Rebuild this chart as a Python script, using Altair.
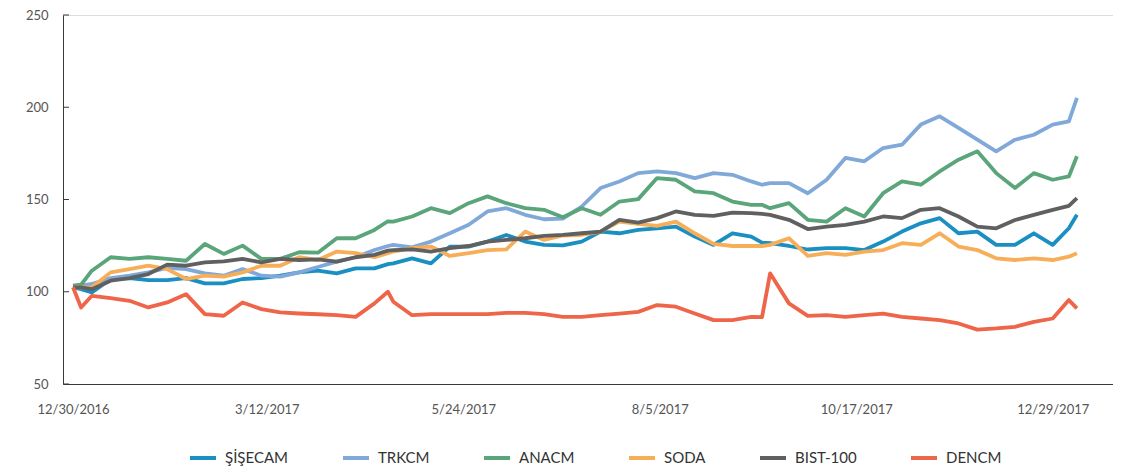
import altair as alt
import pandas as pd

dates = [
    "2016-12-30", "2017-01-02", "2017-01-06", "2017-01-13", "2017-01-20", "2017-01-27",
    "2017-02-03", "2017-02-10", "2017-02-17", "2017-02-24", "2017-03-03", "2017-03-10",
    "2017-03-17", "2017-03-24", "2017-03-31", "2017-04-07", "2017-04-14", "2017-04-21",
    "2017-04-26", "2017-04-28", "2017-05-05", "2017-05-12", "2017-05-19", "2017-05-26",
    "2017-06-02", "2017-06-09", "2017-06-16", "2017-06-23", "2017-06-30", "2017-07-07",
    "2017-07-14", "2017-07-21", "2017-07-28", "2017-08-04", "2017-08-11", "2017-08-18",
    "2017-08-25", "2017-09-01", "2017-09-08", "2017-09-12", "2017-09-15", "2017-09-22",
    "2017-09-29", "2017-10-06", "2017-10-13", "2017-10-20", "2017-10-27", "2017-11-03",
    "2017-11-10", "2017-11-17", "2017-11-24", "2017-12-01", "2017-12-08", "2017-12-15",
    "2017-12-22", "2017-12-29", "2018-01-04", "2018-01-07",
]

sisecam = [
    102.4, 101.4, 99.6, 106.9, 107.4, 106.3, 106.3, 107.4, 104.5, 104.5, 106.9, 107.4,
    108.7, 110.5, 111.4, 110.0, 112.7, 112.7, 115.0, 115.4, 118.1, 115.4, 124.5, 124.5,
    127.2, 130.8, 127.2, 125.4, 125.1, 127.2, 132.6, 131.7, 133.5, 134.4, 135.3, 129.9,
    125.4, 131.7, 129.9, 126.6, 126.3, 124.8, 122.9, 123.6, 123.6, 122.6, 127.2, 132.6,
    137.1, 139.9, 131.7, 132.6, 125.4, 125.4, 131.7, 125.4, 134.4, 141.7,
]
trkcm = [
    102.7, 103.3, 104.2, 107.4, 108.7, 110.5, 112.9, 112.3, 110.0, 108.7, 112.3, 108.7,
    108.2, 110.5, 113.4, 116.3, 118.7, 122.6, 124.8, 125.4, 124.1, 127.2, 131.7, 136.3,
    143.5, 145.3, 141.7, 139.3, 139.6, 146.2, 156.2, 159.8, 164.3, 165.2, 164.3, 161.6,
    164.3, 163.4, 159.8, 158.0, 158.9, 158.9, 153.4, 160.7, 172.5, 170.7, 177.9, 179.7,
    190.6, 195.1, 188.8, 182.4, 176.1, 182.4, 185.1, 190.6, 192.4, 205.1,
]
anacm = [
    103.3, 103.8, 111.4, 118.7, 117.8, 118.7, 117.8, 116.8, 125.9, 120.5, 125.0, 117.8,
    117.8, 121.4, 121.2, 129.0, 129.0, 133.5, 138.2, 138.0, 140.8, 145.3, 142.6, 148.0,
    151.7, 148.0, 145.3, 144.4, 140.4, 145.3, 141.7, 148.9, 150.2, 161.6, 160.7, 154.4,
    153.4, 148.9, 147.1, 147.1, 145.3, 148.0, 139.0, 138.0, 145.3, 140.8, 153.4, 159.8,
    158.0, 165.2, 171.6, 176.1, 164.3, 156.2, 164.3, 160.7, 162.5, 173.4,
]
soda = [
    102.4, 102.4, 102.4, 110.5, 112.3, 114.1, 112.3, 106.9, 108.7, 108.2, 110.5, 114.1,
    114.1, 118.7, 117.2, 121.8, 120.9, 118.7, 120.9, 121.8, 123.6, 124.5, 119.4, 120.9,
    122.6, 123.0, 132.6, 128.1, 130.5, 130.8, 132.6, 138.0, 136.8, 135.7, 138.0, 131.7,
    125.9, 124.8, 124.8, 124.8, 125.4, 129.0, 119.5, 120.9, 120.0, 121.8, 122.6, 126.3,
    125.4, 131.7, 124.5, 122.6, 118.1, 117.2, 118.1, 117.2, 119.0, 120.9,
]
bist100 = [
    102.4, 102.4, 101.4, 106.0, 107.4, 109.6, 114.7, 114.1, 115.9, 116.5, 117.8, 115.9,
    117.8, 117.2, 117.5, 116.3, 118.7, 120.0, 122.3, 122.6, 123.0, 121.8, 123.6, 124.8,
    127.2, 128.1, 129.0, 130.3, 130.8, 131.7, 132.6, 139.0, 137.5, 139.9, 143.5, 141.7,
    141.1, 142.9, 142.6, 142.2, 141.7, 139.0, 134.0, 135.3, 136.2, 138.0, 140.8, 139.9,
    144.4, 145.3, 140.8, 135.3, 134.4, 138.9, 141.7, 144.4, 146.5, 150.7,
]
dencm = [
    102.4, 91.5, 97.8, 96.6, 95.1, 91.5, 94.2, 98.7, 87.9, 87.0, 94.2, 90.6,
    88.8, 88.2, 87.8, 87.3, 86.4, 93.7, 100.0, 94.6, 87.3, 87.9, 87.9, 87.9,
    87.9, 88.6, 88.6, 87.9, 86.4, 86.4, 87.3, 88.2, 89.1, 92.8, 91.9, 88.2,
    84.6, 84.6, 86.4, 86.2, 110.0, 93.7, 86.9, 87.3, 86.4, 87.3, 88.2, 86.4,
    85.5, 84.6, 82.8, 79.5, 80.1, 81.0, 83.7, 85.5, 95.5, 91.0,
]

series_names = ["ŞİŞECAM", "TRKCM", "ANACM", "SODA", "BIST-100", "DENCM"]
series_values = [sisecam, trkcm, anacm, soda, bist100, dencm]
series_colors = ["#1a8fc2", "#80a9d9", "#5aa57a", "#f7ae58", "#606060", "#ee6549"]

y_tick_values = [50, 100, 150, 200, 250]

rows = []
for name, vals in zip(series_names, series_values):
    for d, v in zip(dates, vals):
        rows.append({"date": d, "series": name, "value": v})
df = pd.DataFrame(rows)

x_ticks = [
    alt.DateTime(year=2016, month=12, date=30, utc=True),
    alt.DateTime(year=2017, month=3, date=12, utc=True),
    alt.DateTime(year=2017, month=5, date=24, utc=True),
    alt.DateTime(year=2017, month=8, date=5, utc=True),
    alt.DateTime(year=2017, month=10, date=17, utc=True),
    alt.DateTime(year=2017, month=12, date=29, utc=True),
]
x_domain = [
    alt.DateTime(year=2016, month=12, date=26, hours=6, minutes=50, utc=True),
    alt.DateTime(year=2018, month=1, date=20, hours=9, minutes=36, utc=True),
]

FONT = "Lato"

lines = alt.Chart(df).mark_line(strokeWidth=3.8, strokeJoin="round").encode(
    x=alt.X(
        "date:T",
        scale=alt.Scale(type="utc", domain=x_domain),
        axis=alt.Axis(
            title=None, values=x_ticks,
            labelExpr="utcFormat(datum.value, '%-m/%-d/%Y')",
            ticks=False, grid=False, labelPadding=19, labelFontSize=13,
            labelFont=FONT, labelColor="#555555", domainColor="#3a3a3a",
            domainWidth=1, labelFlush=False,
        ),
    ),
    y=alt.Y(
        "value:Q",
        scale=alt.Scale(domain=[50, 250], nice=False, zero=False),
        axis=alt.Axis(
            title=None, values=y_tick_values, ticks=False, grid=False,
            labelPadding=15, labelFontSize=13, labelFont=FONT,
            labelColor="#555555", domainColor="#3a3a3a", domainWidth=1,
        ),
    ),
    color=alt.Color(
        "series:N",
        scale=alt.Scale(domain=series_names, range=series_colors),
        sort=series_names,
        legend=alt.Legend(
            title=None, orient="none", legendX=125, legendY=428,
            direction="horizontal", symbolType="stroke", symbolStrokeWidth=4,
            symbolSize=676, labelFont=FONT, labelFontSize=15,
            labelColor="#333333", columnPadding=46, labelOffset=7, padding=0,
        ),
    ),
    detail="series:N",
)

tick_df = pd.DataFrame({"v": y_tick_values})
ticks = alt.Chart(tick_df).mark_rule(color="#3a3a3a", strokeWidth=1).encode(
    y=alt.Y("v:Q", scale=alt.Scale(domain=[50, 250], nice=False, zero=False)),
    x=alt.value(0),
    x2=alt.value(6),
)

chart = alt.layer(lines, ticks).properties(
    width=1050,
    height=369,
    autosize=alt.AutoSizeParams(type="none"),
    padding={"left": 55, "top": 7, "right": 0, "bottom": 83},
).configure_view(stroke=None).configure(background="white")

chart.save("out.html", embed_options={"renderer": "svg", "actions": False})
